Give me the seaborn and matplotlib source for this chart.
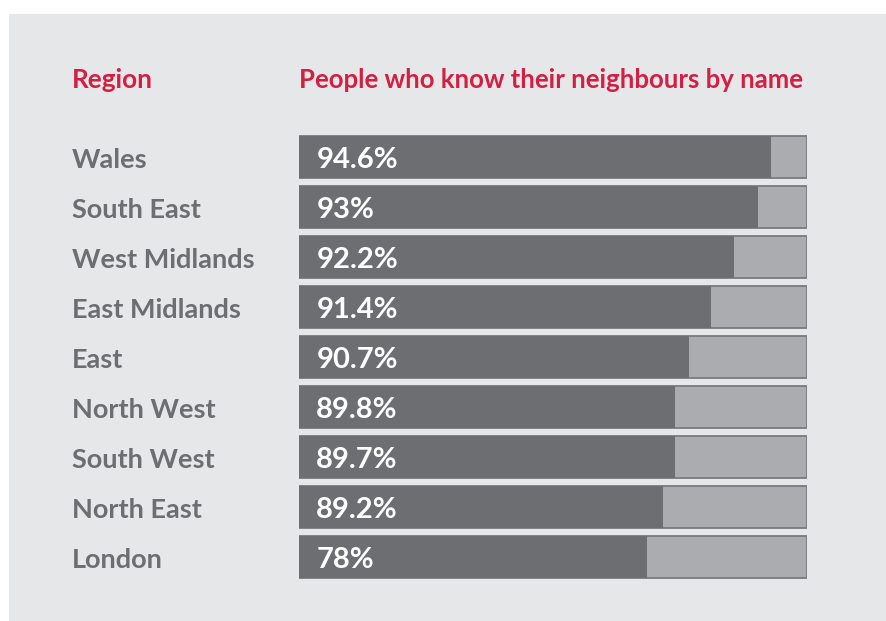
import matplotlib
matplotlib.use("Agg")
import matplotlib.pyplot as plt
import matplotlib.transforms as mtransforms
from matplotlib.patches import Rectangle
import seaborn as sns
import pandas as pd

regions = ["Wales", "South East", "West Midlands", "East Midlands", "East",
           "North West", "South West", "North East", "London"]
pct_labels = ["94.6%", "93%", "92.2%", "91.4%", "90.7%",
              "89.8%", "89.7%", "89.2%", "78%"]
# filled share of each bar as drawn in the original (percent of full bar)
fill_share = [92.8, 90.3, 85.6, 81.0, 76.7, 74.0, 74.0, 71.6, 68.5]
track_full = [100] * len(regions)

header_left = "Region"
header_right = "People who know their neighbours by name"

# --- colours ---
PANEL = "#e6e7e8"
RED = "#d31f43"
TEXT_GREY = "#6d6e71"
BAR_DARK = "#6d6e71"
BAR_TRACK = "#abacaf"
BAR_EDGE = "#7a7b7e"

sns.set_theme(style="white")
plt.rcParams["font.family"] = ["Lato", "DejaVu Sans"]

df = pd.DataFrame({"region": regions, "fill": fill_share, "track": track_full})

W, H = 886, 621
fig = plt.figure(figsize=(W / 100, H / 100), dpi=100)
fig.patch.set_facecolor("white")
fig.patches.append(Rectangle((9 / W, 0), 1 - 9 / W, 1 - 14 / H,
                             transform=fig.transFigure, facecolor=PANEL,
                             edgecolor="none", zorder=-5))

ax_left, ax_right = 298.5, 807.5
ax_top, ax_bottom = 132, 582
ax = fig.add_axes([ax_left / W, (H - ax_bottom) / H,
                   (ax_right - ax_left) / W, (ax_bottom - ax_top) / H])
ax.set_facecolor("none")

sns.barplot(data=df, x="track", y="region", orient="h", color=BAR_TRACK,
            width=0.84, edgecolor=BAR_EDGE, linewidth=1.3, saturation=1, ax=ax)
sns.barplot(data=df, x="fill", y="region", orient="h", color=BAR_DARK,
            width=0.84, edgecolor="none", linewidth=0, saturation=1, ax=ax)

ax.set_xlim(0, 100)
ax.set_ylim(len(regions) - 0.5, -0.5)
ax.set_xlabel("")
ax.set_ylabel("")
ax.set_xticks([])
ax.set_yticks([])
for s in ax.spines.values():
    s.set_visible(False)

# percentage labels inside the bars
for i, lab in enumerate(pct_labels):
    ax.text(3.5, i + 0.22, lab, color="white", fontsize=21, fontweight="bold",
            ha="left", va="baseline")

# region names on the left
trans = mtransforms.blended_transform_factory(fig.transFigure, ax.transData)
for i, name in enumerate(regions):
    ax.text(72 / W, i + 0.22, name, transform=trans, color=TEXT_GREY,
            fontsize=19.5, fontweight="bold", ha="left", va="baseline")

# headers
fig.text(72 / W, (H - 88) / H, header_left, color=RED, fontsize=18.8,
         fontweight="bold", ha="left", va="baseline")
fig.text(299 / W, (H - 88) / H, header_right, color=RED, fontsize=18.5,
         fontweight="bold", ha="left", va="baseline")

fig.savefig("out.png", dpi=100, facecolor=fig.get_facecolor())
